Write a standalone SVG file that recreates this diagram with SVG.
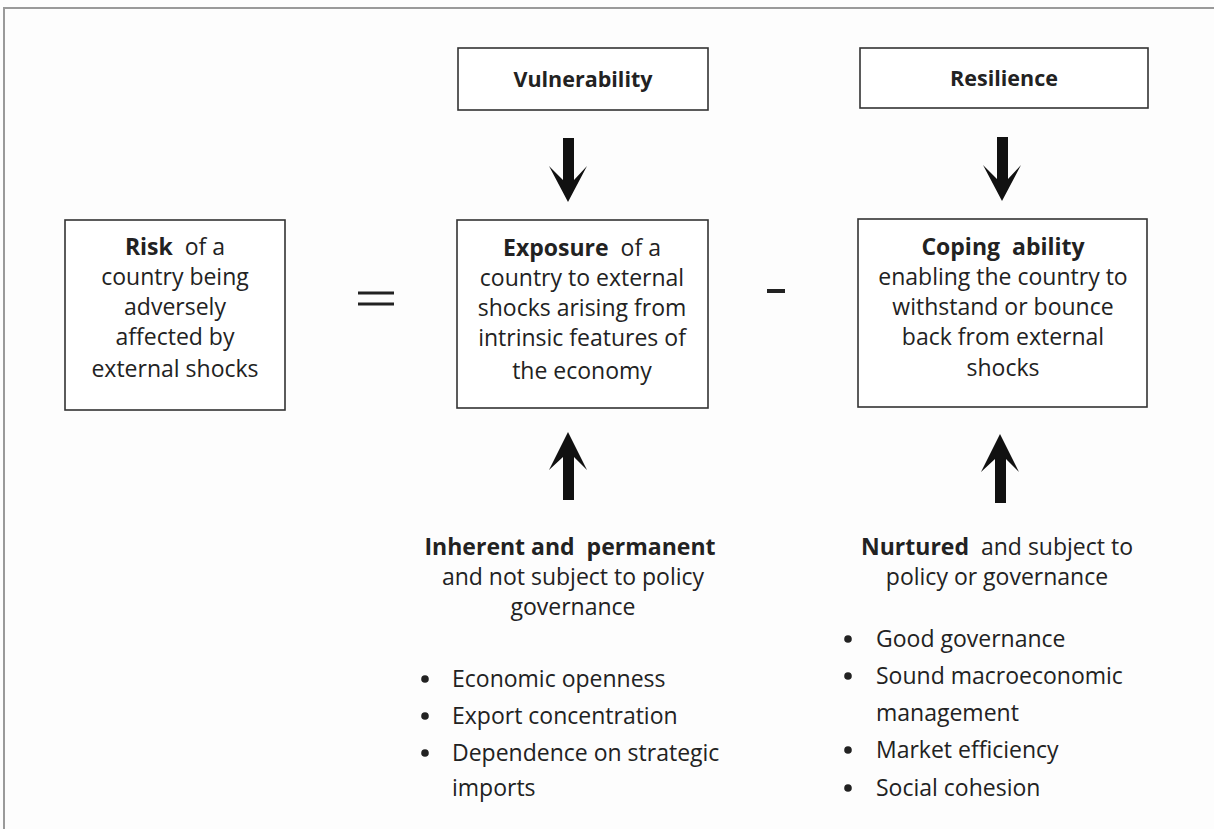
<svg xmlns="http://www.w3.org/2000/svg" width="1214" height="829" viewBox="0 0 1214 829">
<style>
.bg{fill:#fdfdfd}
.frame{fill:none;stroke:#9a9a9a;stroke-width:2}
.box{fill:#ffffff;stroke:#333;stroke-width:1.6}
text{font-family:"Open Sans","Liberation Sans",sans-serif;font-size:23px;fill:#222}
.c{text-anchor:middle}
.b{font-weight:bold}
.t{font-size:21.5px}
.arr{fill:#111}
.op{stroke:#222;fill:none}
</style>
<rect class="bg" x="0" y="0" width="1214" height="829"/>
<path class="frame" d="M4,829 V8 H1214"/>
<g id="risk">
<rect class="box" x="65" y="220" width="220" height="190"/>
<text class="c" x="175" y="255"><tspan class="b">Risk</tspan><tspan dx="12">of a</tspan></text>
<text class="c" x="175" y="285">country being</text>
<text class="c" x="175" y="315">adversely</text>
<text class="c" x="175" y="345">affected by</text>
<text class="c" x="175" y="377">external shocks</text>
</g>
<g id="vulnerability">
<rect class="box" x="458" y="48" width="250" height="62"/>
<text class="c b t" x="583" y="87">Vulnerability</text>
</g>
<g id="resilience">
<rect class="box" x="860" y="48" width="288" height="60"/>
<text class="c b t" x="1004" y="86">Resilience</text>
</g>
<g id="exposure">
<rect class="box" x="457" y="220" width="251" height="188"/>
<text class="c" x="582" y="256"><tspan class="b">Exposure</tspan><tspan dx="12">of a</tspan></text>
<text class="c" x="582" y="286">country to external</text>
<text class="c" x="582" y="316">shocks arising from</text>
<text class="c" x="582" y="346">intrinsic features of</text>
<text class="c" x="582" y="379">the economy</text>
</g>
<g id="coping">
<rect class="box" x="858" y="219" width="289" height="188"/>
<text class="c" x="1003" y="255"><tspan class="b">Coping</tspan><tspan class="b" dx="12">ability</tspan></text>
<text class="c" x="1003" y="285">enabling the country to</text>
<text class="c" x="1003" y="315">withstand or bounce</text>
<text class="c" x="1003" y="345">back from external</text>
<text class="c" x="1003" y="376">shocks</text>
</g>
<g id="inherent">
<text class="c" x="570" y="555"><tspan class="b">Inherent and</tspan><tspan class="b" dx="12">permanent</tspan></text>
<text class="c" x="573" y="585">and not subject to policy</text>
<text class="c" x="573" y="615">governance</text>
<g id="bullets-left">
<circle cx="425" cy="679" r="3.8" fill="#222"/>
<text x="452" y="687">Economic openness</text>
<circle cx="425" cy="716" r="3.8" fill="#222"/>
<text x="452" y="724">Export concentration</text>
<circle cx="425" cy="753" r="3.8" fill="#222"/>
<text x="452" y="761">Dependence on strategic</text>
<text x="452" y="796">imports</text>
</g>
</g>
<g id="nurtured">
<text class="c" x="997" y="555"><tspan class="b">Nurtured</tspan><tspan dx="12">and subject to</tspan></text>
<text class="c" x="997" y="585">policy or governance</text>
<g id="bullets-right">
<circle cx="848" cy="639" r="3.8" fill="#222"/>
<text x="876" y="647">Good governance</text>
<circle cx="848" cy="676" r="3.8" fill="#222"/>
<text x="876" y="684">Sound macroeconomic</text>
<text x="876" y="721">management</text>
<circle cx="848" cy="750" r="3.8" fill="#222"/>
<text x="876" y="758">Market efficiency</text>
<circle cx="848" cy="788" r="3.8" fill="#222"/>
<text x="876" y="796">Social cohesion</text>
</g>
</g>
<g id="connectors">
<path class="arr" d="M563,138 H574 V180 L587,166 L568,202 L549,166 L563,180 Z"/>
<path class="arr" d="M997,137 H1008 V179 L1021,165 L1002,201 L983,165 L997,179 Z"/>
<path class="arr" d="M563,500 H574 V457 L587,470 L568,432 L549,470 L563,457 Z"/>
<path class="arr" d="M995,503 H1006 V459 L1019,472 L1000,434 L981,472 L995,459 Z"/>
<path class="op" stroke-width="3" d="M358,293 H394 M358,304 H394"/>
<path class="op" stroke-width="4" d="M767,291 H785"/>
</g>
</svg>
